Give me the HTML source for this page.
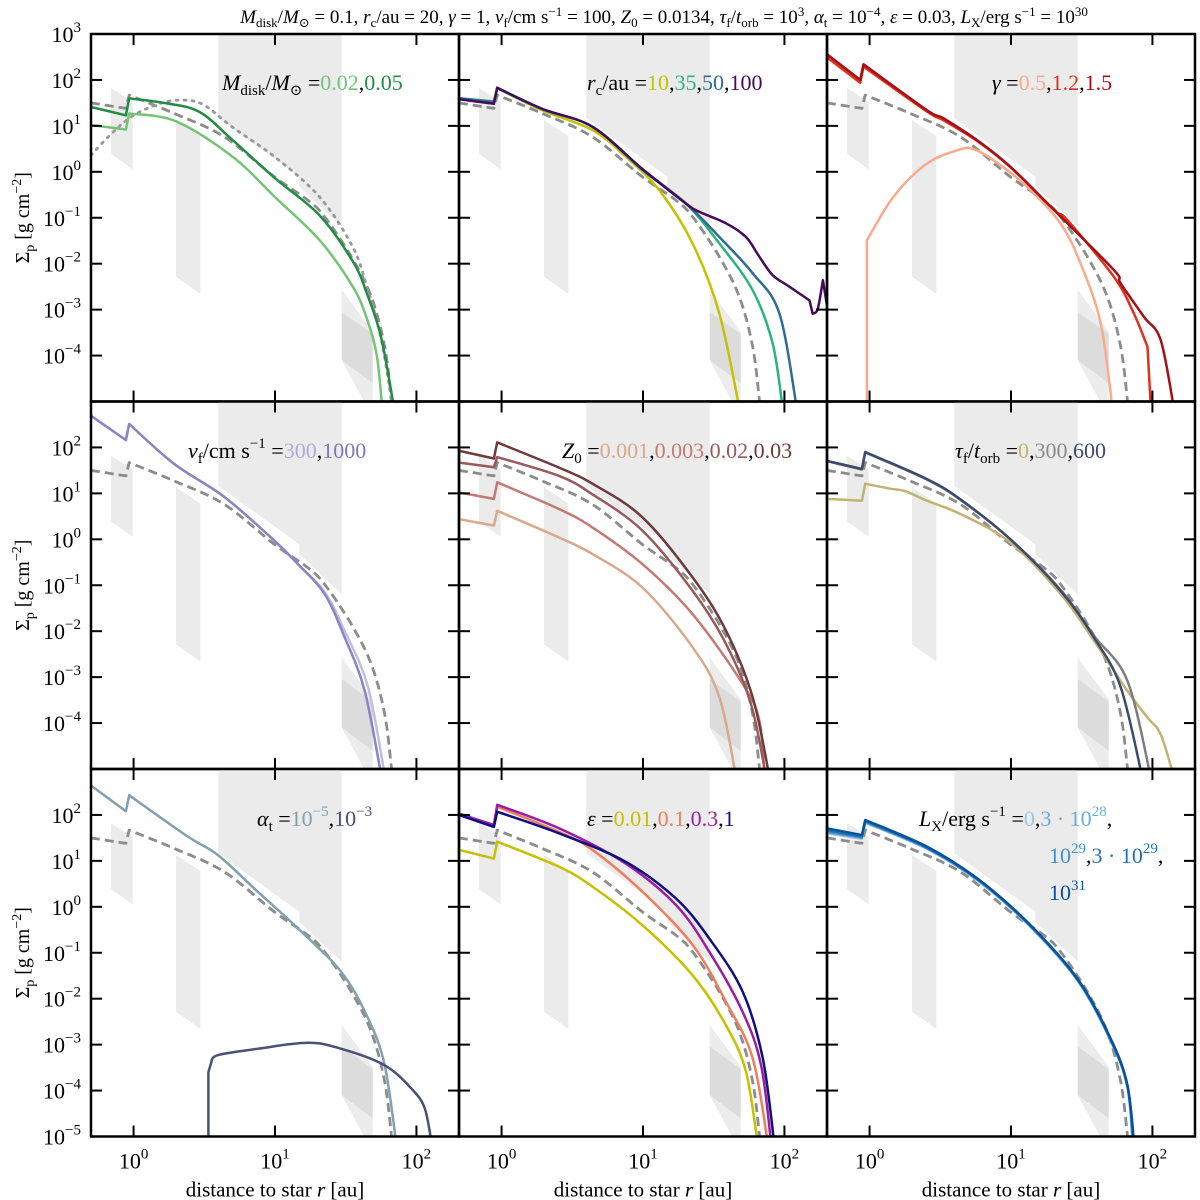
<!DOCTYPE html>
<html><head><meta charset="utf-8"><title>Dust surface density grid</title>
<style>
html,body{margin:0;padding:0;background:#fff;}
svg{display:block;font-family:"Liberation Serif","DejaVu Serif",serif;}
</style></head>
<body>
<svg id="chart" width="1200" height="1200" viewBox="0 0 1200 1200" xmlns="http://www.w3.org/2000/svg"></svg>
<script>
// ---- data: [log10 r/au, log10 Sigma] ----
const baseDashed=[[-0.302,1.50],[-0.054,1.38],[-0.031,1.67],[0.288,1.27],[0.642,0.76],[0.996,-0.11],[1.233,-0.62],[1.351,-0.98],[1.54,-1.85],[1.681,-2.72],[1.776,-3.81],[1.823,-4.97],[1.83,-5.2]];
const mdiskDotted=[[-0.302,0.36],[-0.15,0.85],[0,1.23],[0.2,1.5],[0.36,1.56],[0.5,1.45],[0.7,0.97],[1.0,0.32],[1.316,-0.55],[1.55,-1.64],[1.65,-2.5],[1.74,-3.5],[1.80,-4.5],[1.83,-5.2]];
const mdisk002=[[-0.302,1.02],[-0.054,0.92],[-0.031,1.27],[0.3,1.1],[0.70,0.33],[1.0,-0.55],[1.316,-1.49],[1.55,-2.5],[1.65,-3.2],[1.72,-4.0],[1.76,-5.2]];
const mdisk005=[[-0.302,1.41],[-0.054,1.23],[-0.031,1.6],[0.236,1.49],[0.468,1.3],[0.70,0.69],[1.0,-0.14],[1.316,-0.95],[1.55,-1.95],[1.65,-2.65],[1.75,-3.6],[1.845,-5.2]];
const rc10=[[-0.302,1.60],[-0.054,1.53],[-0.031,1.82],[0.288,1.34],[0.642,0.91],[0.878,0.33],[1.115,-0.40],[1.351,-1.56],[1.54,-3.09],[1.685,-5.2]];
const rc35=[[-0.302,1.60],[-0.054,1.53],[-0.031,1.82],[0.288,1.36],[0.642,0.98],[0.996,0.04],[1.303,-0.69],[1.54,-1.56],[1.776,-2.58],[1.917,-3.74],[1.99,-5.2]];
const rc50=[[-0.302,1.60],[-0.054,1.52],[-0.031,1.83],[0.288,1.37],[0.642,0.98],[0.996,0.06],[1.303,-0.69],[1.54,-1.42],[1.776,-2.21],[1.965,-3.09],[2.09,-5.2]];
const rc100=[[-0.302,1.58],[-0.054,1.48],[-0.031,1.83],[0.288,1.37],[0.642,0.98],[0.996,0.06],[1.303,-0.69],[1.398,-0.87],[1.587,-1.12],[1.728,-1.42],[1.823,-1.85],[1.917,-2.25],[2.035,-2.50],[2.177,-2.80],[2.2,-3.09],[2.236,-2.98],[2.272,-2.36],[2.30,-2.9]];
const gamma05=[[-0.019,-5.2],[-0.019,-1.49],[0.170,-0.54],[0.406,0.18],[0.642,0.49],[0.737,0.49],[0.878,0.25],[1.115,-0.33],[1.351,-1.13],[1.492,-2.0],[1.634,-3.3],[1.72,-5.2]];
const gamma12=[[-0.302,2.49],[-0.066,1.94],[-0.043,2.29],[0.406,1.31],[0.524,1.12],[0.760,0.67],[0.996,0.10],[1.303,-0.83],[1.398,-1.05],[1.728,-2.29],[1.870,-3.09],[1.965,-3.81],[1.99,-5.2]];
const gamma15=[[-0.302,2.56],[-0.066,2.0],[-0.043,2.34],[0.406,1.34],[0.524,1.16],[0.760,0.69],[0.996,0.11],[1.303,-0.83],[1.728,-2.14],[1.776,-2.43],[1.941,-3.16],[2.059,-3.67],[2.155,-5.2]];
const vf300=[[-0.302,2.69],[-0.054,2.16],[-0.031,2.51],[0.288,1.64],[0.642,0.92],[0.996,-0.03],[1.162,-0.54],[1.351,-1.15],[1.492,-1.99],[1.658,-3.22],[1.78,-5.2]];
const vf1000=[[-0.302,2.69],[-0.054,2.16],[-0.031,2.51],[0.288,1.64],[0.642,0.92],[0.996,-0.03],[1.162,-0.54],[1.351,-1.19],[1.492,-2.13],[1.634,-3.30],[1.755,-5.2]];
const z0001=[[-0.302,0.44],[-0.054,0.30],[-0.031,0.62],[0.406,0.04],[0.642,-0.32],[0.996,-1.05],[1.351,-2.35],[1.540,-3.44],[1.66,-5.2]];
const z0003=[[-0.302,1.02],[-0.054,0.88],[-0.031,1.24],[0.406,0.66],[0.642,0.26],[0.996,-0.54],[1.351,-1.63],[1.705,-3.15],[1.823,-3.95],[1.86,-5.2]];
const z002=[[-0.302,1.67],[-0.054,1.57],[-0.031,1.79],[0.406,1.38],[0.642,0.98],[0.996,0.19],[1.351,-1.12],[1.587,-2.28],[1.764,-3.59],[1.872,-5.2]];
const z003=[[-0.302,1.93],[-0.054,1.76],[-0.031,2.11],[0.406,1.56],[0.642,1.21],[0.996,0.48],[1.351,-0.83],[1.587,-1.99],[1.776,-3.44],[1.896,-5.2]];
const tau0=[[-0.302,0.88],[-0.054,0.84],[-0.031,1.21],[0.15,1.1],[0.25,1.05],[0.406,0.84],[0.642,0.55],[0.996,-0.07],[1.351,-1.19],[1.587,-2.21],[1.823,-3.30],[1.965,-3.88],[2.059,-4.25],[2.155,-5.2]];
const tau300=[[-0.302,1.70],[-0.054,1.52],[-0.031,1.89],[0.406,1.30],[0.642,0.86],[0.996,0.0],[1.351,-1.10],[1.587,-2.10],[1.823,-3.08],[1.99,-5.2]];
const tau600=[[-0.302,1.71],[-0.054,1.53],[-0.031,1.90],[0.406,1.31],[0.642,0.87],[0.996,0.0],[1.351,-1.12],[1.587,-2.14],[1.776,-3.22],[1.93,-5.2]];
const alpha5=[[-0.302,2.64],[-0.054,2.08],[-0.031,2.43],[0.383,1.53],[0.595,1.13],[0.878,0.33],[1.162,-0.47],[1.469,-1.42],[1.658,-2.43],[1.776,-3.45],[1.86,-5.2]];
const alpha3=[[0.529,-5.2],[0.529,-3.6],[0.548,-3.40],[0.595,-3.23],[0.878,-3.09],[1.233,-2.96],[1.469,-3.09],[1.776,-3.45],[1.965,-3.96],[2.059,-4.39],[2.11,-5.2]];
const eps001=[[-0.302,1.24],[-0.054,1.05],[-0.031,1.42],[0.406,0.87],[0.642,0.44],[0.996,-0.40],[1.351,-1.49],[1.587,-2.58],[1.728,-3.59],[1.813,-5.2]];
const eps01=[[-0.302,2.0],[-0.054,1.76],[-0.031,2.18],[0.406,1.63],[0.642,1.24],[0.996,0.33],[1.351,-0.83],[1.587,-2.07],[1.776,-3.30],[1.885,-5.2]];
const eps03=[[-0.302,2.03],[-0.054,1.78],[-0.031,2.22],[0.406,1.71],[0.878,0.94],[1.233,0.04],[1.469,-0.98],[1.705,-2.29],[1.835,-3.45],[1.908,-5.2]];
const eps1=[[-0.302,2.0],[-0.054,1.74],[-0.031,2.07],[0.406,1.60],[0.878,0.98],[1.233,0.18],[1.469,-0.69],[1.705,-1.85],[1.847,-3.30],[1.93,-5.2]];
const lx0=[[-0.302,1.60],[-0.054,1.48],[-0.031,1.83],[0.406,1.26],[0.760,0.58],[1.115,-0.37],[1.469,-1.60],[1.705,-2.92],[1.823,-3.92],[1.86,-5.2]];
const lx3e28=[[-0.302,1.62],[-0.054,1.50],[-0.031,1.84],[0.406,1.27],[0.760,0.59],[1.115,-0.36],[1.469,-1.59],[1.705,-2.91],[1.823,-3.91],[1.862,-5.2]];
const lx1e29=[[-0.302,1.64],[-0.054,1.51],[-0.031,1.85],[0.406,1.28],[0.760,0.60],[1.115,-0.35],[1.469,-1.58],[1.705,-2.90],[1.823,-3.90],[1.865,-5.2]];
const lx3e29=[[-0.302,1.67],[-0.054,1.53],[-0.031,1.87],[0.406,1.29],[0.760,0.61],[1.115,-0.34],[1.469,-1.57],[1.705,-2.89],[1.823,-3.89],[1.868,-5.2]];
const lx1e31=[[-0.302,1.71],[-0.054,1.56],[-0.031,1.89],[0.406,1.31],[0.760,0.62],[1.115,-0.33],[1.469,-1.56],[1.705,-2.87],[1.823,-3.88],[1.872,-5.2]];
const yTicks=[3,2,1,0,-1,-2,-3,-4,-5];
const xTicks=[0,1,2];

const NS="http://www.w3.org/2000/svg";
const svg=document.getElementById('chart');
const colX=[91,459,827], rowY=[34,401.5,769], PW=368, PH=367.5;
const XMIN=Math.log10(0.5), XMAX=Math.log10(200), YMIN=-5, YMAX=3;
function sx(lr){return (lr-XMIN)/(XMAX-XMIN)*PW;}
function sy(ls){return (YMAX-ls)/(YMAX-YMIN)*PH;}
function mk(tag,attrs,parent){const e=document.createElementNS(NS,tag);for(const k in attrs)e.setAttribute(k,attrs[k]);(parent||svg).appendChild(e);return e;}

// smooth path: Catmull-Rom within segments, straight at jumps
function smoothPath(d){
  const P=d.map(q=>[sx(q[0]),sy(q[1])]);
  const segs=[];let cur=[P[0]];
  for(let i=1;i<P.length;i++){
    if(d[i][0]-d[i-1][0]<0.03){segs.push(cur);cur=[P[i]];}
    else cur.push(P[i]);
  }
  segs.push(cur);
  let s='';
  segs.forEach((sg,si)=>{
    s+=(si===0?'M':'L')+sg[0][0].toFixed(1)+','+sg[0][1].toFixed(1);
    for(let i=0;i<sg.length-1;i++){
      const p0=sg[i-1]||sg[i],p1=sg[i],p2=sg[i+1],p3=sg[i+2]||sg[i+1];
      const c1=[p1[0]+(p2[0]-p0[0])/6,p1[1]+(p2[1]-p0[1])/6];
      const c2=[p2[0]-(p3[0]-p1[0])/6,p2[1]-(p3[1]-p1[1])/6];
      s+='C'+c1[0].toFixed(1)+','+c1[1].toFixed(1)+' '+c2[0].toFixed(1)+','+c2[1].toFixed(1)+' '+p2[0].toFixed(1)+','+p2[1].toFixed(1);
    }
  });
  return s;
}

const panels=[
 {name:'mdisk',series:[{d:mdiskDotted,c:'#999',dash:'2,6',w:2.8,cap:'round'},{d:mdisk002,c:'#74c476'},{d:mdisk005,c:'#238b45'}]},
 {name:'rc',series:[{d:rc10,c:'#c4c200'},{d:rc35,c:'#2db37e'},{d:rc50,c:'#2f6b93'},{d:rc100,c:'#450b5a'}]},
 {name:'gamma',series:[{d:gamma05,c:'#fca98c'},{d:gamma12,c:'#e0301e'},{d:gamma15,c:'#a50f15'}]},
 {name:'vf',series:[{d:vf300,c:'#c3bee0'},{d:vf1000,c:'#8a84c3'}]},
 {name:'z0',series:[{d:z0001,c:'#d8a98c'},{d:z0003,c:'#c47a74'},{d:z002,c:'#99595a'},{d:z003,c:'#6e3b3d'}]},
 {name:'tau',series:[{d:tau0,c:'#c4b273'},{d:tau300,c:'#7d7d7d'},{d:tau600,c:'#3b4b6e'}]},
 {name:'alpha',series:[{d:alpha5,c:'#84a0ad'},{d:alpha3,c:'#4b5074'}]},
 {name:'eps',series:[{d:eps001,c:'#c6c000'},{d:eps01,c:'#f07e5c'},{d:eps03,c:'#9b1da3'},{d:eps1,c:'#100f80'}]},
 {name:'lx',series:[{d:lx0,c:'#9ecae1'},{d:lx3e28,c:'#6baed6'},{d:lx1e29,c:'#4292c6'},{d:lx3e29,c:'#2171b5'},{d:lx1e31,c:'#08519c'}]}
];
const defs=mk('defs',{});
panels.forEach((p,i)=>{
  const col=i%3,row=Math.floor(i/3);
  const g=mk('g',{transform:`translate(${colX[col]},${rowY[row]})`});
  
  
  const cp=mk('clipPath',{id:'clip'+i},defs);
  mk('rect',{x:0,y:0,width:PW,height:PH},cp);
  const inner=mk('g',{'clip-path':`url(#clip${i})`},g);
  const sh=[
    {pts:'127.3,0 250.7,0 250.7,192.7 208.3,152.7 208.3,142.7 127.3,84.3',f:'#ebebeb'},
    {pts:'20,54.3 41.7,67.7 41.7,135.3 20,120',f:'#ebebeb'},
    {pts:'85,86 109.3,102 109.3,260 85,242.7',f:'#ebebeb'},
    {pts:'250.7,256 281.7,297.7 281.7,368 273.3,368 250.7,326',f:'#ececec'},
    {pts:'250.7,277.7 281.7,300 281.7,349.3 250.7,326',f:'#dcdcdc'}
  ];
  sh.forEach((s,k)=>{const e=mk('polygon',{points:s.pts,fill:s.f},inner);
    
    });
  const draw=(d,c,w,dash,cap,nm)=>{
    const a={d:smoothPath(d),fill:'none',stroke:c,'stroke-width':w,'stroke-linejoin':'round'};
    if(dash)a['stroke-dasharray']=dash; if(cap)a['stroke-linecap']=cap;
    const e=mk('path',a,inner);
    
    
  };
  draw(baseDashed,'#8c8c8c',2.8,'9,5',null,'fiducial-dashed-line');
  p.series.forEach((s,k)=>draw(s.d,s.c,s.w||2.5,s.dash,s.cap,'series-'+p.name+'-'+k));
  const fr=mk('rect',{x:0,y:0,width:PW,height:PH,fill:'none',stroke:'#000','stroke-width':2.5},g);
  
  
  xTicks.forEach(t=>{const x=sx(t);
    mk('line',{x1:x,y1:0,x2:x,y2:11,stroke:'#000','stroke-width':2},g);
    mk('line',{x1:x,y1:PH,x2:x,y2:PH-11,stroke:'#000','stroke-width':2},g);});
  yTicks.forEach(t=>{const y=sy(t);
    mk('line',{x1:0,y1:y,x2:11,y2:y,stroke:'#000','stroke-width':2},g);
    mk('line',{x1:PW,y1:y,x2:PW-11,y2:y,stroke:'#000','stroke-width':2},g);});
  if(col===0){
    yTicks.forEach(t=>{
      if(row===0&&t===-5)return; if(row===1&&(t===3||t===-5))return; if(row===2&&t===3)return;
      const tx=mk('text',{x:-10,y:sy(t)+8,'text-anchor':'end','font-size':22},g);
      
      
      tx.innerHTML='10<tspan dy="-10" font-size="15">'+(t<0?'\u2212'+(-t):t)+'</tspan>';
    });
    const yl=mk('text',{transform:`translate(${-62},${PH/2}) rotate(-90)`,'text-anchor':'middle','font-size':20},g);
    
    
    yl.innerHTML='\u03a3<tspan dy="5" font-size="14">p</tspan><tspan dy="-5"> [g cm</tspan><tspan dy="-8" font-size="14">\u22122</tspan><tspan dy="8">]</tspan>';
  }
  if(row===2){
    xTicks.forEach(t=>{
      const tx=mk('text',{x:sx(t),y:PH+32,'text-anchor':'middle','font-size':22},g);
      
      
      tx.innerHTML='10<tspan dy="-10" font-size="15">'+t+'</tspan>';
    });
    const xl=mk('text',{x:PW/2,y:PH+60,'text-anchor':'middle','font-size':21},g);
    
    
    xl.innerHTML='distance to star <tspan font-style="italic">r</tspan> [au]';
  }
});
</script>
<svg style="position:absolute;left:0;top:0" width="1200" height="1200" viewBox="0 0 1200 1200" xmlns="http://www.w3.org/2000/svg" font-family="Liberation Serif, DejaVu Serif, serif">
<text x="664" y="23" text-anchor="middle" font-size="19"><tspan font-style="italic">M</tspan><tspan dy="4" font-size="13">disk</tspan><tspan dy="-4">/</tspan><tspan font-style="italic">M</tspan><tspan dy="4" font-size="13">⊙</tspan><tspan dy="-4"> = 0.1, </tspan><tspan font-style="italic">r</tspan><tspan dy="4" font-size="13">c</tspan><tspan dy="-4">/au = 20, </tspan><tspan font-style="italic">γ</tspan><tspan> = 1, </tspan><tspan font-style="italic">v</tspan><tspan dy="4" font-size="13">f</tspan><tspan dy="-4">/cm s</tspan><tspan dy="-7" font-size="13">−1</tspan><tspan dy="7"> = 100, </tspan><tspan font-style="italic">Z</tspan><tspan dy="4" font-size="13">0</tspan><tspan dy="-4"> = 0.0134, </tspan><tspan font-style="italic">τ</tspan><tspan dy="4" font-size="13">f</tspan><tspan dy="-4">/</tspan><tspan font-style="italic">t</tspan><tspan dy="4" font-size="13">orb</tspan><tspan dy="-4"> = 10</tspan><tspan dy="-7" font-size="13">3</tspan><tspan dy="7">, </tspan><tspan font-style="italic">α</tspan><tspan dy="4" font-size="13">t</tspan><tspan dy="-4"> = 10</tspan><tspan dy="-7" font-size="13">−4</tspan><tspan dy="7">, </tspan><tspan font-style="italic">ε</tspan><tspan> = 0.03, </tspan><tspan font-style="italic">L</tspan><tspan dy="4" font-size="13">X</tspan><tspan dy="-4">/erg s</tspan><tspan dy="-7" font-size="13">−1</tspan><tspan dy="7"> = 10</tspan><tspan dy="-7" font-size="13">30</tspan></text>

<text x="222" y="90" font-size="22"><tspan font-style="italic">M</tspan><tspan dy="5" font-size="15">disk</tspan><tspan dy="-5">/</tspan><tspan font-style="italic">M</tspan><tspan dy="5" font-size="15">⊙</tspan><tspan dy="-5"> =</tspan><tspan fill="#74c476">0.02</tspan><tspan>,</tspan><tspan fill="#238b45">0.05</tspan></text>
<text x="587" y="90" font-size="22"><tspan font-style="italic">r</tspan><tspan dy="5" font-size="15">c</tspan><tspan dy="-5">/au =</tspan><tspan fill="#c4c200">10</tspan>,<tspan fill="#2db37e">35</tspan>,<tspan fill="#2f6b93">50</tspan>,<tspan fill="#450b5a">100</tspan></text>
<text x="992" y="90" font-size="22"><tspan font-style="italic">γ</tspan> =<tspan fill="#fca98c">0.5</tspan>,<tspan fill="#e0301e">1.2</tspan>,<tspan fill="#a50f15">1.5</tspan></text>

<text x="188" y="458" font-size="22"><tspan font-style="italic">v</tspan><tspan dy="5" font-size="15">f</tspan><tspan dy="-5">/cm s</tspan><tspan dy="-10" font-size="15">−1</tspan><tspan dy="10"> =</tspan><tspan fill="#b0aad8">300</tspan>,<tspan fill="#7f78bd">1000</tspan></text>
<text x="562" y="458" font-size="22"><tspan font-style="italic">Z</tspan><tspan dy="5" font-size="15">0</tspan><tspan dy="-5"> =</tspan><tspan fill="#d8a98c">0.001</tspan>,<tspan fill="#c47a74">0.003</tspan>,<tspan fill="#99595a">0.02</tspan>,<tspan fill="#6e3b3d">0.03</tspan></text>
<text x="955" y="458" font-size="22"><tspan font-style="italic">τ</tspan><tspan dy="5" font-size="15">f</tspan><tspan dy="-5">/</tspan><tspan font-style="italic">t</tspan><tspan dy="5" font-size="15">orb</tspan><tspan dy="-5"> =</tspan><tspan fill="#c4b273">0</tspan>,<tspan fill="#8a8a8a">300</tspan>,<tspan fill="#3b4b6e">600</tspan></text>

<text x="257" y="826" font-size="22"><tspan font-style="italic">α</tspan><tspan dy="5" font-size="15">t</tspan><tspan dy="-5"> =</tspan><tspan fill="#84a0ad">10<tspan dy="-10" font-size="15">−5</tspan></tspan><tspan dy="10">,</tspan><tspan fill="#4b5074">10<tspan dy="-10" font-size="15">−3</tspan></tspan></text>
<text x="587" y="826" font-size="22"><tspan font-style="italic">ε</tspan> =<tspan fill="#c6c000">0.01</tspan>,<tspan fill="#f07e5c">0.1</tspan>,<tspan fill="#9b1da3">0.3</tspan>,<tspan fill="#100f80">1</tspan></text>
<text x="919" y="826" font-size="22"><tspan font-style="italic">L</tspan><tspan dy="5" font-size="15">X</tspan><tspan dy="-5">/erg s</tspan><tspan dy="-10" font-size="15">−1</tspan><tspan dy="10"> =</tspan><tspan fill="#9ecae1">0</tspan>,<tspan fill="#6baed6">3 · 10<tspan dy="-10" font-size="15">28</tspan></tspan><tspan dy="10">,</tspan></text>
<text x="1049" y="863" font-size="22"><tspan fill="#4292c6">10<tspan dy="-10" font-size="15">29</tspan></tspan><tspan dy="10">,</tspan><tspan fill="#2171b5">3 · 10<tspan dy="-10" font-size="15">29</tspan></tspan><tspan dy="10">,</tspan></text>
<text x="1049" y="900" font-size="22"><tspan fill="#08519c">10<tspan dy="-10" font-size="15">31</tspan></tspan></text>
</svg>
</body></html>
